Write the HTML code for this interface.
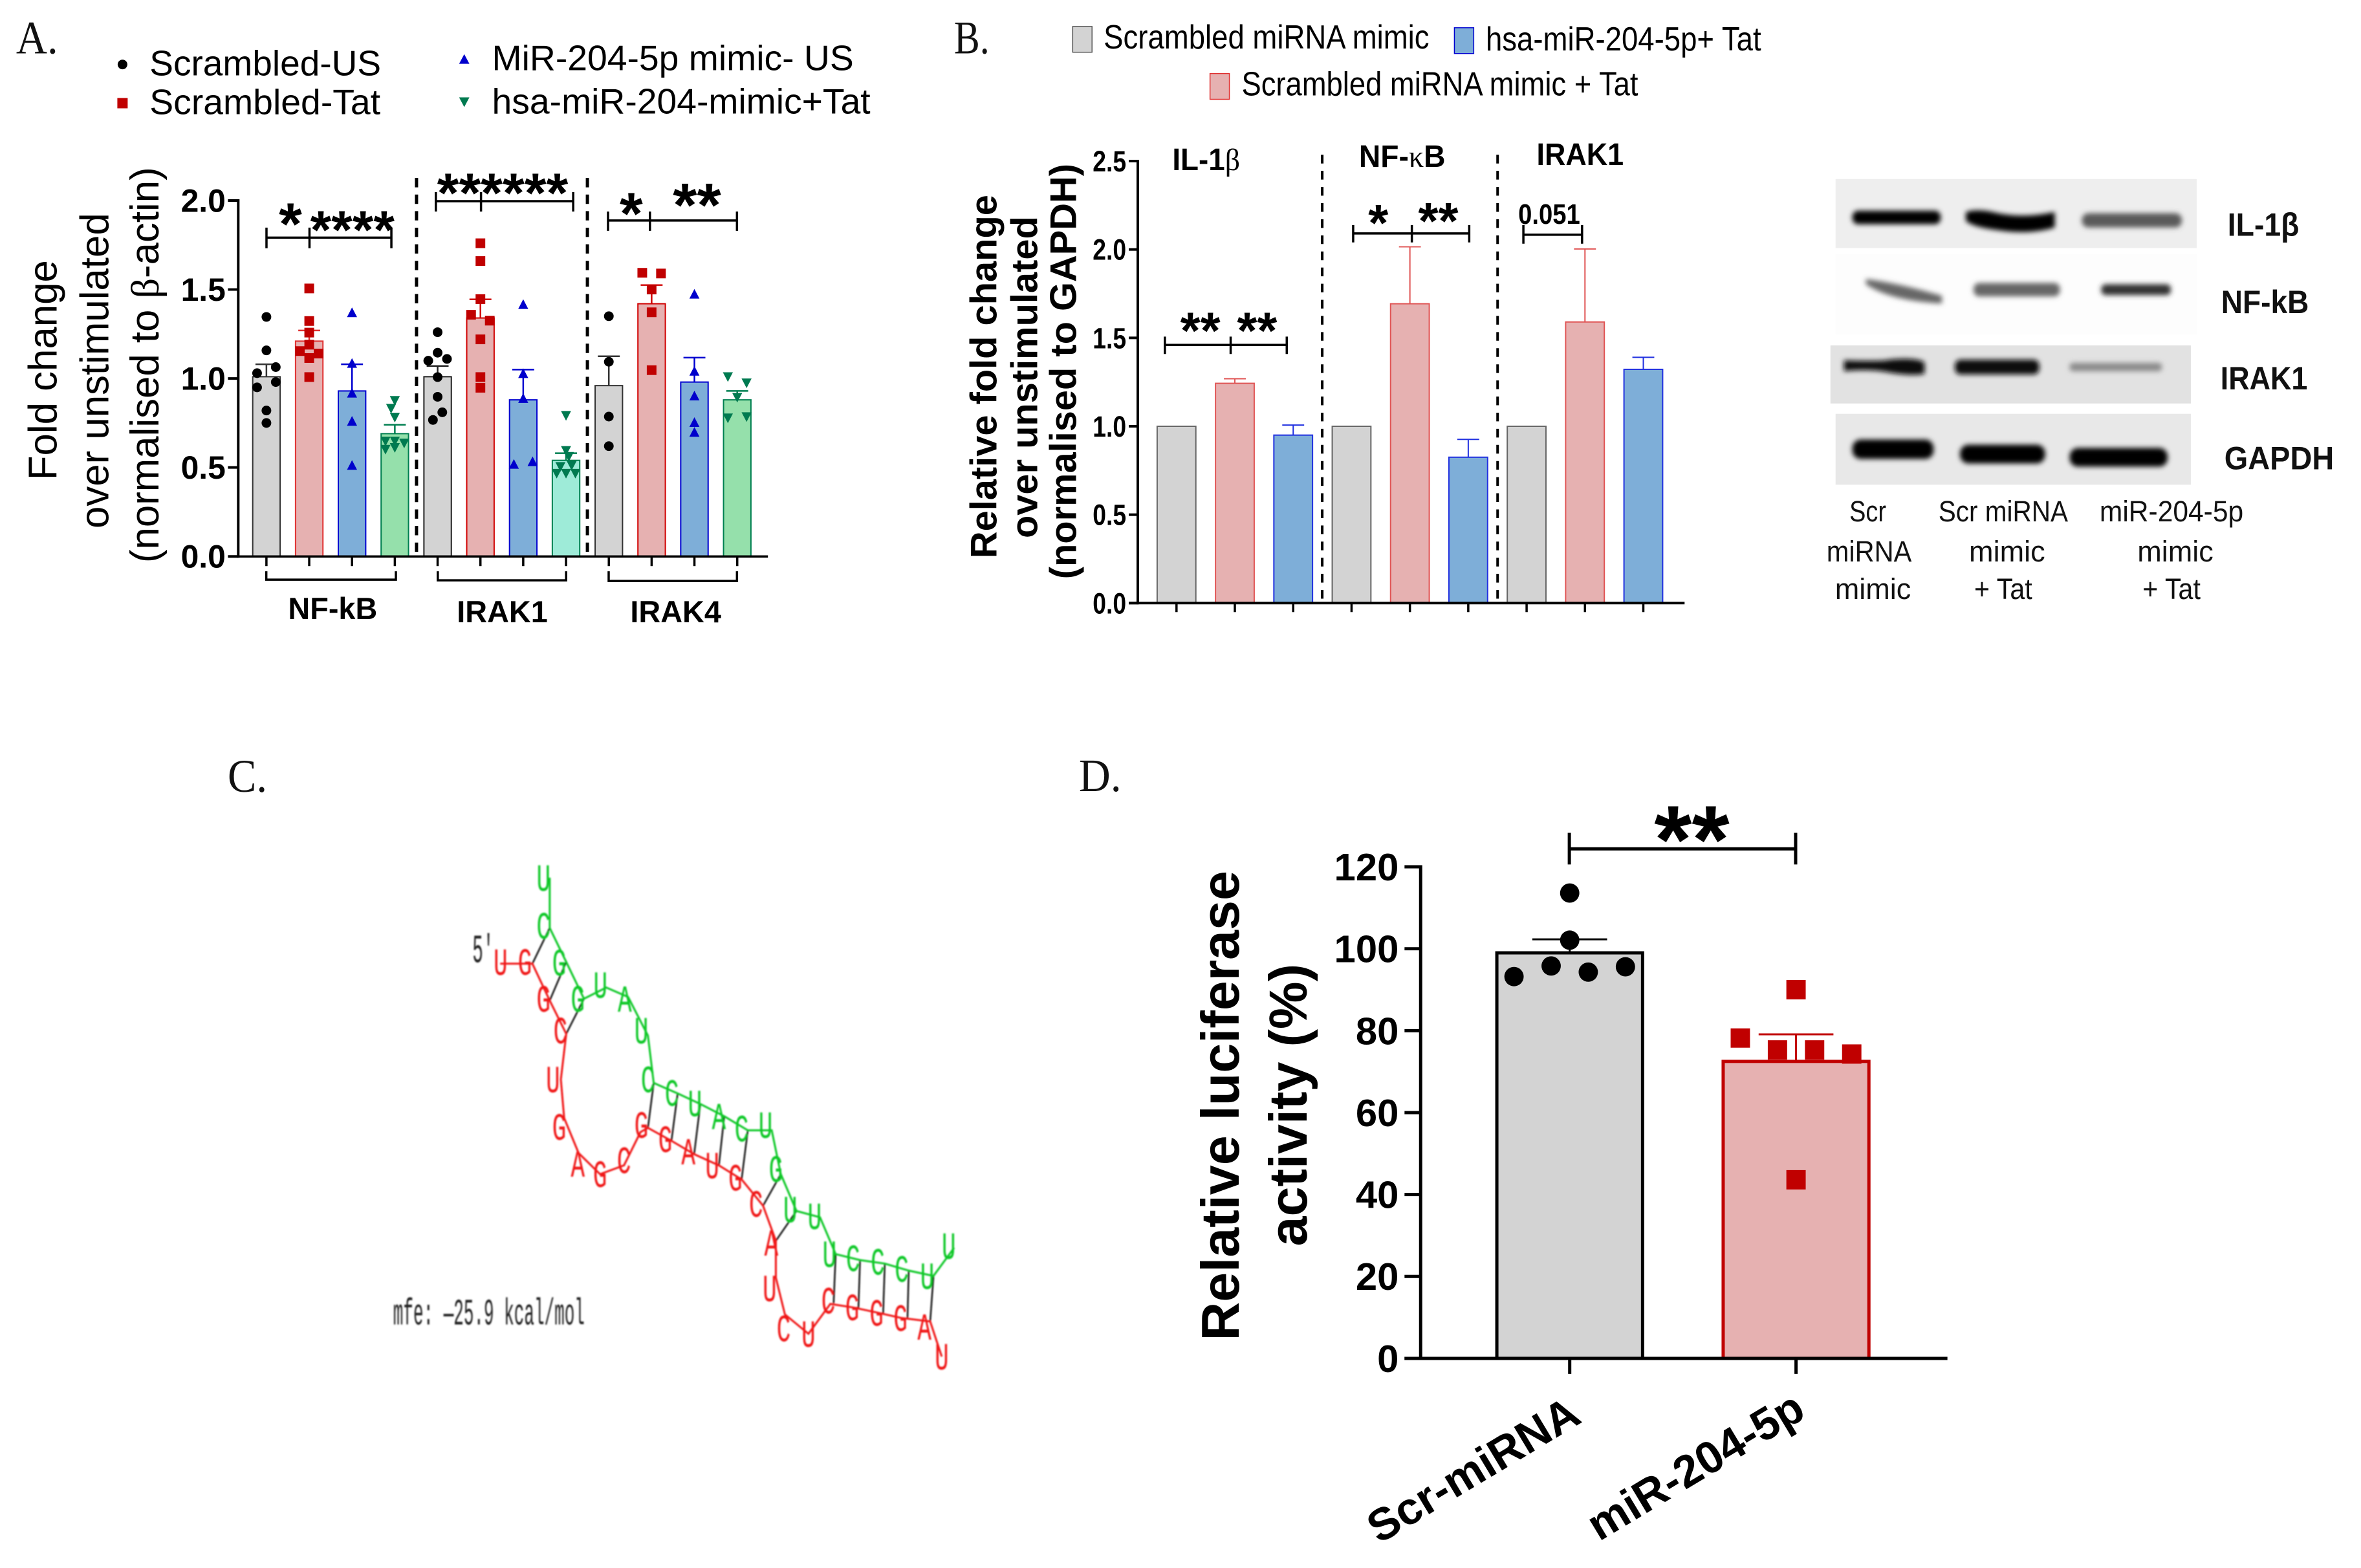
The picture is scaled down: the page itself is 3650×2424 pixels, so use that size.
<!DOCTYPE html>
<html lang="en">
<head>
<meta charset="utf-8">
<title>miR-204-5p figure panels</title>
<style>
html,body{margin:0;padding:0;background:#fff;}
svg{display:block;}
text{font-family:"Liberation Sans",sans-serif;fill:#000;}
.panel-letter{font-family:"Liberation Serif",serif;font-size:72px;fill:#111;}
.star{font-size:84px;font-weight:700;text-anchor:middle;}
.greek{font-family:"Liberation Serif",serif;font-weight:400;}
.bold{font-weight:700;}
.lane{font-size:46px;text-anchor:middle;fill:#111;}
.blot-label{font-size:50px;font-weight:700;fill:#111;}
.mono{font-family:"Liberation Mono",monospace;fill:#222;}
</style>
</head>
<body>
<svg id="figure" xmlns="http://www.w3.org/2000/svg" width="3650" height="2424" viewBox="0 0 3650 2424">
<defs>
<filter id="b3" x="-20%" y="-100%" width="140%" height="300%"><feGaussianBlur stdDeviation="4"/></filter>
<filter id="soft" x="-5%" y="-5%" width="110%" height="110%"><feGaussianBlur stdDeviation="1"/></filter>
</defs>

<!-- PANEL A -->
<g id="panel-a" transform="scale(.9968)">
<text class="panel-letter" x="25" y="83" textLength="65" lengthAdjust="spacingAndGlyphs">A.</text>
<g font-size="55">
<circle cx="190" cy="100" r="7.5" fill="#000"/>
<text x="232" y="117" textLength="359" lengthAdjust="spacingAndGlyphs">Scrambled-US</text>
<rect x="182" y="152" width="16" height="16" fill="#c00000"/>
<text x="232" y="177" textLength="358" lengthAdjust="spacingAndGlyphs">Scrambled-Tat</text>
<polygon points="720,84 712,99 728,99" fill="#0000cc"/>
<text x="763" y="109" textLength="561" lengthAdjust="spacingAndGlyphs">MiR-204-5p mimic- US</text>
<polygon points="712,151 728,151 720,166" fill="#007a50"/>
<text x="763" y="176" textLength="587" lengthAdjust="spacingAndGlyphs">hsa-miR-204-mimic+Tat</text>
</g>
<text transform="translate(88,574) rotate(-90)" font-size="62" text-anchor="middle">Fold change</text>
<text transform="translate(168,575) rotate(-90)" font-size="62" text-anchor="middle">over unstimulated</text>
<text transform="translate(246,566) rotate(-90)" font-size="62" text-anchor="middle">(normalised to <tspan class="greek">β</tspan>-actin)</text>
<g id="panel-a-marks"></g>
<line x1="646" y1="276" x2="646" y2="863" stroke="#000" stroke-width="5" stroke-dasharray="14.5 11.2"/>
<line x1="911" y1="276" x2="911" y2="863" stroke="#000" stroke-width="5" stroke-dasharray="14.5 11.2"/>
<g fill="none" stroke="#000" stroke-width="3.5">
<path d="M413 886V899H614V886"/>
<path d="M679 886V900H878V886"/>
<path d="M944 886V901H1143V886"/>
</g>
<g class="bold" font-size="47" text-anchor="middle">
<text x="516" y="960">NF-kB</text>
<text x="779" y="965">IRAK1</text>
<text x="1048" y="965">IRAK4</text>
</g>
<g fill="none" stroke="#000" stroke-width="3.5">
<path d="M413.3 353V385M413.3 368.5H607M480 353V385M607 353V385"/>
<path d="M676 298V328M676 312H889M746 298V328M889 298V328"/>
<path d="M943 328V358M943 342H1143M1008 328V358M1143 328V358"/>
</g>
<text class="star" x="450.4" y="379" style="font-size:92px">*</text>
<text class="star" x="546.5" y="385">****</text>
<text class="star" x="779.5" y="329" style="font-size:87px">******</text>
<text class="star" x="979" y="363" style="font-size:92px">*</text>
<text class="star" x="1081" y="351" style="font-size:96px">**</text>
</g>

<!-- PANEL B -->
<g id="panel-b" transform="translate(4.64,0) scale(.9968)">
<text class="panel-letter" x="1475" y="83" textLength="55" lengthAdjust="spacingAndGlyphs">B.</text>
<g font-size="52">
<rect x="1659" y="41" width="30" height="40" fill="#d3d3d3" stroke="#555" stroke-width="1.5"/>
<text x="1707" y="75" textLength="505" lengthAdjust="spacingAndGlyphs" fill="#111">Scrambled miRNA mimic</text>
<rect x="2251" y="43" width="30" height="40" fill="#7eaed8" stroke="#0000d0" stroke-width="1.5"/>
<text x="2299.7" y="78" textLength="427" lengthAdjust="spacingAndGlyphs">hsa-miR-204-5p+ Tat</text>
<rect x="1872" y="114" width="30" height="40" fill="#e6b1b1" stroke="#e03030" stroke-width="1.5"/>
<text x="1921" y="148" textLength="615" lengthAdjust="spacingAndGlyphs">Scrambled miRNA mimic + Tat</text>
</g>
<g class="bold" font-size="58" text-anchor="middle">
<text transform="translate(1541,584) rotate(-90)">Relative fold change</text>
<text transform="translate(1604,585) rotate(-90)">over unstimulated</text>
<text transform="translate(1664,576) rotate(-90)">(normalised to GAPDH)</text>
</g>
<g id="panel-b-marks"></g>
<line x1="2046" y1="240" x2="2046" y2="935" stroke="#000" stroke-width="4" stroke-dasharray="13.5 11.5"/>
<line x1="2318" y1="240" x2="2318" y2="935" stroke="#000" stroke-width="4" stroke-dasharray="13.5 11.5"/>
<g class="bold" font-size="48" text-anchor="middle">
<text x="1866" y="264" textLength="105" lengthAdjust="spacingAndGlyphs">IL-1<tspan class="greek">β</tspan></text>
<text x="2170" y="259" textLength="134" lengthAdjust="spacingAndGlyphs">NF-<tspan class="greek">κ</tspan>B</text>
<text x="2446" y="256" textLength="135" lengthAdjust="spacingAndGlyphs">IRAK1</text>
</g>
<g fill="none" stroke="#000" stroke-width="3.5">
<path d="M1802 522V549M1802 535H1991M1904 522V549M1991 522V549"/>
<path d="M2094 349V376M2094 362H2274M2185 349V376M2274 349V376"/>
<path d="M2358 349V378M2358 364H2449M2449 349V378"/>
</g>
<text class="star" x="1857" y="540" style="font-size:80px">**</text>
<text class="star" x="1945" y="540" style="font-size:80px">**</text>
<text class="star" x="2133" y="373" style="font-size:80px">*</text>
<text class="star" x="2226" y="370" style="font-size:80px">**</text>
<text class="bold" x="2398" y="347" font-size="44" text-anchor="middle" textLength="96" lengthAdjust="spacingAndGlyphs">0.051</text>
</g>

<!-- WESTERN BLOTS -->
<g id="western-blots" transform="translate(8.8,.74) scale(.9968)">
<g>
<rect x="2838" y="277" width="560" height="107" fill="#eeeeee"/>
<rect x="2864" y="326" width="137" height="21" rx="9" fill="#050505" filter="url(#b3)"/>
<path d="M3040 328q20-6 50 2q40 8 88-2v24q-40 12-90 4q-35-4-48-14z" fill="#000" filter="url(#b3)"/>
<rect x="3220" y="330" width="155" height="22" rx="10" fill="#5a5a5a" filter="url(#b3)"/>
</g>
<g>
<rect x="2838" y="393" width="560" height="125" fill="#fdfdfd"/>
<path d="M2885 432q50 6 118 26v12q-80-4-118-30z" fill="#666" filter="url(#b3)"/>
<rect x="3052" y="438" width="134" height="21" rx="9" fill="#666" filter="url(#b3)"/>
<rect x="3250" y="440" width="108" height="17" rx="7" fill="#333" filter="url(#b3)"/>
</g>
<g>
<rect x="2830" y="535" width="559" height="90" fill="#e2e2e2"/>
<path d="M2851 558q60 2 70-1q40-4 55 4v18q-20 4-55-2q-30-6-70-2z" fill="#0a0a0a" filter="url(#b3)"/>
<rect x="3023" y="557" width="131" height="23" rx="9" fill="#111" filter="url(#b3)"/>
<rect x="3201" y="562" width="143" height="13" rx="5" fill="#8a8a8a" filter="url(#b3)"/>
</g>
<g>
<rect x="2838" y="641" width="551" height="110" fill="#e8e8e8"/>
<rect x="2864" y="681" width="126" height="30" rx="13" fill="#000" filter="url(#b3)"/>
<rect x="3031" y="689" width="132" height="29" rx="13" fill="#000" filter="url(#b3)"/>
<rect x="3201" y="694" width="152" height="29" rx="13" fill="#000" filter="url(#b3)"/>
</g>
<text class="blot-label" x="3446" y="365" textLength="111" lengthAdjust="spacingAndGlyphs">IL-1β</text>
<text class="blot-label" x="3436" y="485" textLength="136" lengthAdjust="spacingAndGlyphs">NF-kB</text>
<text class="blot-label" x="3435" y="603" textLength="135" lengthAdjust="spacingAndGlyphs">IRAK1</text>
<text class="blot-label" x="3441" y="727" textLength="170" lengthAdjust="spacingAndGlyphs">GAPDH</text>
<g>
<text class="lane" x="2888" y="808" textLength="57" lengthAdjust="spacingAndGlyphs">Scr</text>
<text class="lane" x="2890" y="870" textLength="132" lengthAdjust="spacingAndGlyphs">miRNA</text>
<text class="lane" x="2896" y="928" textLength="118" lengthAdjust="spacingAndGlyphs">mimic</text>
<text class="lane" x="3098" y="808" textLength="201" lengthAdjust="spacingAndGlyphs">Scr miRNA</text>
<text class="lane" x="3104" y="870" textLength="118" lengthAdjust="spacingAndGlyphs">mimic</text>
<text class="lane" x="3098" y="928" textLength="90" lengthAdjust="spacingAndGlyphs">+ Tat</text>
<text class="lane" x="3359" y="808" textLength="223" lengthAdjust="spacingAndGlyphs">miR-204-5p</text>
<text class="lane" x="3365" y="870" textLength="118" lengthAdjust="spacingAndGlyphs">mimic</text>
<text class="lane" x="3359" y="928" textLength="90" lengthAdjust="spacingAndGlyphs">+ Tat</text>
</g>
</g>

<!-- PANEL C -->
<g id="panel-c">
<text class="panel-letter" x="352" y="1224" textLength="61" lengthAdjust="spacingAndGlyphs">C.</text>
<g transform="translate(1.76,4.16) scale(.9968)">
<g id="rna-diagram" filter="url(#soft)"></g>
<text class="mono" x="608" y="2050" font-size="58" textLength="297" lengthAdjust="spacingAndGlyphs" filter="url(#soft)">mfe: —25.9 kcal/mol</text>
<text class="mono" x="731" y="1488" font-size="62" textLength="33" lengthAdjust="spacingAndGlyphs" filter="url(#soft)">5′</text>
</g>
</g>

<!-- PANEL D -->
<g id="panel-d" transform="translate(5.28,3.68) scale(.9968)">
<text class="panel-letter" x="1668" y="1223" textLength="66" lengthAdjust="spacingAndGlyphs">D.</text>
<text class="bold" transform="translate(1916,1711) rotate(-90)" font-size="83" text-anchor="middle">Relative luciferase</text>
<text class="bold" transform="translate(2021,1710) rotate(-90)" font-size="83" text-anchor="middle">activity (%)</text>
<g id="panel-d-marks"></g>
<path d="M2428.6 1288V1337M2428.6 1312.8H2779.6M2779.6 1288V1337" fill="none" stroke="#000" stroke-width="5"/>
<text class="star" x="2618.6" y="1350" style="font-size:150px">**</text>
</g>

<script>
/* ---------- Panel A data ---------- */
const aCategories = ['NF-kB','IRAK1','IRAK4'];
const aTickValues = [0, 0.5, 1, 1.5, 2];
const aTickLabels = ['0.0','0.5','1.0','1.5','2.0'];
const aBarMeans = [1.01,1.21,0.93,0.69, 1.01,1.34,0.88,0.54, 0.96,1.42,0.98,0.88];
const aErrorTops = [1.08,1.27,1.08,0.74, 1.07,1.445,1.05,0.58, 1.125,1.525,1.117,0.93];
const aPointValues = [
  [1.346,1.158,1.03,1.064,0.98,0.95,0.82,0.75],
  [1.506,1.323,1.258,1.154,1.14,1.19,1.115,1.008],
  [1.372,1.087,0.92,0.762,0.514],
  [0.874,0.83,0.78,0.646,0.646,0.635,0.6,0.61],
  [1.26,1.10,1.145,1.11,1.008,0.897,0.81,0.767],
  [1.76,1.66,1.446,1.358,1.325,1.22,1.008,0.948],
  [1.418,1.03,0.89,0.52,0.535],
  [0.79,0.593,0.56,0.503,0.51,0.465,0.465,0.465],
  [1.35,1.094,0.786,0.62],
  [1.594,1.59,1.50,1.372,1.047],
  [1.476,1.043,0.904,0.755,0.70],
  [1.008,0.973,0.892,0.776,0.783]
];
const aPointColumns = [
  [0,0,-1,1,1,-1,0,0],
  [0,0,0,-1,1,0,0,0],
  [0,0,0,0,0],
  [0,-0.4,0,-1,0,1,-1,0],
  [0,-1,0,1,0,0,0.5,-0.5],
  [0,0,0,-1,1,0,0,0],
  [0,0,0,-1,1],
  [0,0,0.3,-0.6,0.6,-1,0,1],
  [0,0,0,0],
  [-1,1,0,0,0],
  [0,0,0,0,0],
  [-1,1,0,-1,1]
];
/* ---------- Panel B data ---------- */
const bTickValues = [0, 0.5, 1, 1.5, 2, 2.5];
const bTickLabels = ['0.0','0.5','1.0','1.5','2.0','2.5'];
const bBarMeans = [1.0,1.243,0.95, 1.0,1.693,0.825, 1.0,1.59,1.322];
const bErrorTops = [null,1.269,1.007, null,2.015,0.926, null,2.003,1.39];
/* ---------- Panel D data ---------- */
const dCategories = ['Scr-miRNA','miR-204-5p'];
const dTickValues = [0,20,40,60,80,100,120];
const dTickLabels = ['0','20','40','60','80','100','120'];
const dBarMeans = [99, 72.5];
const dErrorTops = [102.3, 79.1];
const dPointValues = [[113.6,102.1,93.2,95.8,94.3,95.6],[90,78.2,75.3,75.3,74.3,43.6]];
const dPointColumns = [[0,0,-1.5,-0.5,0.5,1.5],[0,-1.5,-0.5,0.5,1.5,0]];
/* ---------- Panel C diagram ---------- */
const rnaGreenStrand = [[470,105],[470,248],[510,345],[553,450],[607,418],[660,445],[708,555],[722,690],[780,720],[835,750],[893,785],[950,825],[1008,825],[1030,950],[1068,1055],[1125,1073],[1163,1178],[1222,1195],[1282,1205],[1340,1225],[1400,1240],[1450,1160]];
const rnaRedStrand = [[350,350],[428,350],[470,455],[510,550],[497,680],[505,790],[540,890],[592,950],[650,925],[690,830],[708,818],[765,855],[820,893],[880,925],[935,965],[987,1040],[1018,1140],[1018,1245],[1040,1350],[1097,1405],[1150,1320],[1205,1330],[1265,1345],[1322,1360],[1392,1370],[1420,1470]];
const rnaPairs = [[428,350,470,248],[470,455,510,345],[510,550,553,450],[708,818,722,690],[765,855,780,720],[820,893,835,750],[880,925,893,785],[935,965,950,825],[987,1040,1030,950],[1018,1140,1068,1055],[1158,1318,1163,1178],[1218,1335,1222,1195],[1278,1348,1282,1205],[1337,1362,1340,1225],[1392,1370,1400,1240]];
const rnaGreenLetters = [['U',455,105],['C',455,242],['G',493,347],['G',538,450],['U',593,410],['A',652,450],['U',692,540],['C',708,680],['C',766,718],['U',822,748],['A',880,785],['C',935,820],['U',993,810],['G',1018,935],['U',1053,1050],['U',1112,1070],['U',1148,1178],['C',1205,1190],['C',1265,1200],['C',1323,1220],['U',1385,1240],['U',1437,1155]];
const rnaRedLetters = [['U',351,345],['G',410,345],['G',455,450],['C',496,540],['U',478,680],['G',493,815],['A',538,920],['G',592,950],['C',650,910],['G',692,810],['G',750,850],['A',806,885],['U',864,925],['G',920,960],['C',970,1035],['A',1007,1145],['U',1003,1275],['C',1037,1390],['U',1097,1405],['C',1145,1310],['G',1203,1330],['G',1262,1345],['G',1320,1360],['A',1378,1385],['U',1420,1470]];

/* ---------- Styles ---------- */
const aFills = ['#d3d3d3','#e6b1b1','#7eaed8','#95e0ab','#d3d3d3','#e6b1b1','#7eaed8','#9eebd8','#d3d3d3','#e6b1b1','#7eaed8','#95e0ab'];
const aStrokes = ['#333','#e03030','#0000d0','#007f50','#222','#d00000','#0000d0','#007f50','#333','#d00000','#0000d0','#007f50'];
const aMarkerColors = ['#000','#c00000','#0000cc','#007a50'];
const aMarkerKinds = ['circle','square','up','down'];
const bFills = ['#d3d3d3','#e6b1b1','#7eaed8'];
const bStrokes = ['#666','#e05555','#2030e0'];
const dLabelOffsetX = [21, 18];
const dLabelOffsetY = [98, 90];

/* ---------- Axis functions ---------- */
const yA = v => 863 - v * 276;
const xA = i => 413.2 + i * 66.38;
const yB = v => 935.3 - v * 274.2;
const xB = i => 1820 + i * 90.5;
const yD = v => 2103 - v * 6.353;
const xD = i => 2429.2 + i * 351;

const NS = 'http://www.w3.org/2000/svg';
function mk(tag, parent, attrs) {
  const e = document.createElementNS(NS, tag);
  for (const k in attrs) e.setAttribute(k, attrs[k]);
  parent.appendChild(e);
  return e;
}
function marker(parent, kind, x, y, s, color) {
  let m;
  if (kind === 'circle') m = mk('circle', parent, {cx:x, cy:y, r:s/2, fill:color});
  else if (kind === 'square') m = mk('rect', parent, {x:x-s/2, y:y-s/2, width:s, height:s, fill:color});
  else if (kind === 'up') m = mk('polygon', parent, {points:`${x},${y-s*0.5} ${x-s*0.52},${y+s*0.5} ${x+s*0.52},${y+s*0.5}`, fill:color});
  else m = mk('polygon', parent, {points:`${x-s*0.52},${y-s*0.5} ${x+s*0.52},${y-s*0.5} ${x},${y+s*0.5}`, fill:color});
  return m;
}
function yAxis(parent, x, y0, y1, ticks, labels, yf, tickLen, sw, fs, labelRight, labelLen) {
  const ax = mk('line', parent, {x1:x, y1:y0+sw/2, x2:x, y2:y1-sw/2, stroke:'#000', 'stroke-width':sw});
  
  
  ticks.forEach((v, i) => {
    const t = mk('line', parent, {x1:x-tickLen, x2:x, y1:yf(v), y2:yf(v), stroke:'#000', 'stroke-width':sw});
    
    
    const attrs = {x:labelRight, y:yf(v)+fs*0.35, 'font-size':fs, 'font-weight':700, 'text-anchor':'end'};
    if (labelLen) { attrs.textLength = labelLen; attrs.lengthAdjust = 'spacingAndGlyphs'; }
    const l = mk('text', parent, attrs);
    l.textContent = labels[i];
    
    
  });
}
function bar(parent, cx, w, top, base, fill, stroke, sw) {
  const r = mk('rect', parent, {x:cx-w/2, y:top, width:w, height:base-top, fill:fill, stroke:stroke, 'stroke-width':sw});
  
  
}
function errorBar(parent, cx, capW, top, bottom, stroke, sw) {
  const p = mk('path', parent, {d:`M${cx} ${bottom}V${top}M${cx-capW/2} ${top}H${cx+capW/2}`, fill:'none', stroke:stroke, 'stroke-width':sw});
  
  
}

/* ---------- Draw panel A ---------- */
(function () {
  const g = document.getElementById('panel-a-marks');
  aBarMeans.forEach((v, i) => bar(g, xA(i), 42.5, yA(v), yA(0), aFills[i], aStrokes[i], 2));
  aErrorTops.forEach((v, i) => errorBar(g, xA(i), 34, yA(v), yA(aBarMeans[i]), aStrokes[i], 2.5));
  aPointValues.forEach((vals, i) => vals.forEach((v, j) => {
    const m = marker(g, aMarkerKinds[i % 4], xA(i) + aPointColumns[i][j] * 14.5, yA(v), 15, aMarkerColors[i % 4]);
    
    
  }));
  yAxis(g, 369.5, yA(0), yA(2), aTickValues, aTickLabels, yA, 16, 4, 50, 350);
  const xa = mk('line', g, {x1:354, x2:1191, y1:yA(0), y2:yA(0), stroke:'#000', 'stroke-width':3.5});
  
  
  aBarMeans.forEach((v, i) => {
    const t = mk('line', g, {x1:xA(i), x2:xA(i), y1:yA(0), y2:yA(0)+15, stroke:'#000', 'stroke-width':3.5});
    
    
  });
})();

/* ---------- Draw panel B ---------- */
(function () {
  const g = document.getElementById('panel-b-marks');
  bBarMeans.forEach((v, i) => bar(g, xB(i), 60, yB(v), yB(0), bFills[i % 3], bStrokes[i % 3], 2));
  bErrorTops.forEach((v, i) => {
    if (v !== null) errorBar(g, xB(i), 34, yB(v), yB(bBarMeans[i]), bStrokes[i % 3], 2);
  });
  yAxis(g, 1760, yB(0), yB(2.5), bTickValues, bTickLabels, yB, 14, 4, 46, 1742, 52);
  const xa = mk('line', g, {x1:1746, x2:2608, y1:yB(0), y2:yB(0), stroke:'#000', 'stroke-width':4});
  
  
  bBarMeans.forEach((v, i) => {
    const t = mk('line', g, {x1:xB(i), x2:xB(i), y1:yB(0), y2:yB(0)+14, stroke:'#000', 'stroke-width':3.5});
    
    
  });
})();

/* ---------- Draw panel D ---------- */
(function () {
  const g = document.getElementById('panel-d-marks');
  const fills = ['#d3d3d3','#e6b1b1'], strokes = ['#000','#c00000'], kinds = ['circle','square'];
  dBarMeans.forEach((v, i) => bar(g, xD(i), 226, yD(v), yD(0), fills[i], strokes[i], 5));
  dErrorTops.forEach((v, i) => errorBar(g, xD(i), 116, yD(v), yD(dBarMeans[i]), strokes[i], 3));
  dPointValues.forEach((vals, i) => vals.forEach((v, j) => {
    const m = marker(g, kinds[i], xD(i) + dPointColumns[i][j] * 57.6, yD(v), 30, strokes[i]);
    
    
  }));
  yAxis(g, 2198, yD(0), yD(120), dTickValues, dTickLabels, yD, 25, 5, 60, 2164);
  const xa = mk('line', g, {x1:2173, x2:3015, y1:yD(0), y2:yD(0), stroke:'#000', 'stroke-width':5});
  
  
  dCategories.forEach((c, i) => {
    const t = mk('line', g, {x1:xD(i), x2:xD(i), y1:yD(0), y2:yD(0)+24, stroke:'#000', 'stroke-width':5});
    
    
    const l = mk('text', g, {transform:`translate(${xD(i)+dLabelOffsetX[i]},${yD(0)+dLabelOffsetY[i]}) rotate(-31)`, 'font-size':70, 'font-weight':700, 'text-anchor':'end'});
    l.textContent = c;
    
    
  });
})();

/* ---------- Draw panel C (RNA duplex) ---------- */
(function () {
  const g = document.getElementById('rna-diagram');
  const px = x => 550 + x * 0.64;
  const py = y => 1300 + y * 0.544;
  const pts = a => a.map(p => px(p[0]) + ',' + py(p[1])).join(' ');
  rnaPairs.forEach(p => {
    const l = mk('line', g, {x1:px(p[0]), y1:py(p[1]), x2:px(p[2]), y2:py(p[3]), stroke:'#111', 'stroke-width':2.5});
    
    
  });
  const gs = mk('polyline', g, {points:pts(rnaGreenStrand), fill:'none', stroke:'#08c828', 'stroke-width':3});
  
  
  const rs = mk('polyline', g, {points:pts(rnaRedStrand), fill:'none', stroke:'#f01818', 'stroke-width':3});
  
  
  const letter = (a, color) => {
    const t = mk('text', g, {transform:`translate(${px(a[1])},${py(a[2])+20}) scale(0.6,1)`, 'font-size':60, 'text-anchor':'middle', style:`font-family:'Liberation Mono',monospace;fill:${color}`});
    t.textContent = a[0];
    
    
  };
  rnaGreenLetters.forEach(a => letter(a, '#08c828'));
  rnaRedLetters.forEach(a => letter(a, '#f01818'));
})();
</script>
</svg>
</body>
</html>
